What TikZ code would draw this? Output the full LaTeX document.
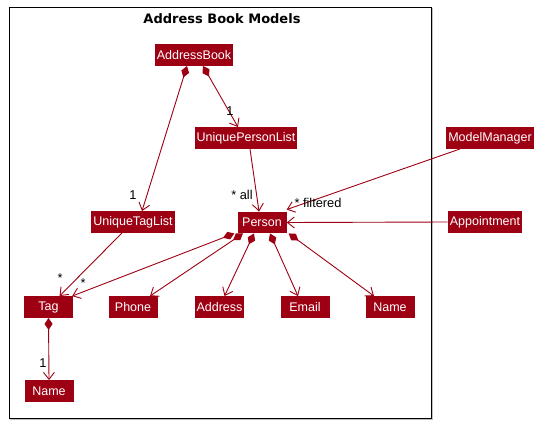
\documentclass[tikz,border=0pt]{standalone}
\usepackage{fontspec}
\setmainfont{Liberation Sans}
\newfontfamily\titlefont{DejaVu Sans}
\usetikzlibrary{arrows.meta}
\definecolor{modelred}{HTML}{9D0012}

\begin{document}
\begin{tikzpicture}[
  x=1pt, y=-1pt,
  font=\fontsize{12.5}{14}\selectfont,
  cls/.style={fill=modelred, text=white, minimum width=49pt, minimum height=21.5pt, inner xsep=2pt, inner ysep=2pt},
  lbl/.style={inner sep=1pt, text=black, font=\fontsize{12.8}{14}\selectfont},
  as/.style={-{Straight Barb[length=7pt, width=11pt]}, draw=modelred, line width=0.9pt},
  comp/.style={{Diamond[length=12pt, width=8pt]}-{Straight Barb[length=7pt, width=11pt]}, draw=modelred, line width=0.9pt},
]
\useasboundingbox (0,0) rectangle (542,424);
% package frame
\node[draw=black!25, line width=1.2pt, minimum width=422pt, minimum height=411pt, inner sep=0pt] at (221.5,214) {};
\node[draw, line width=0.9pt, fill=white, minimum width=422pt, minimum height=411pt, inner sep=0pt] (pkg) at (220,212.5) {};
\node[font=\titlefont\bfseries\fontsize{13}{15}\selectfont] at (222,18.5) {Address Book Models};

\node[cls] (ab)   at (194,55)  {AddressBook};
\node[cls] (upl)  at (246,138) {UniquePersonList};
\node[cls] (utl)  at (133,222) {UniqueTagList};
\node[cls] (per)  at (262,222.5) {Person};
\node[cls] (mm)   at (490,138) {ModelManager};
\node[cls] (appt) at (485,222) {Appointment};
\node[cls] (tag)  at (48.5,307) {Tag};
\node[cls] (ph)   at (133,307) {Phone};
\node[cls] (adr)  at (219.5,307) {Address};
\node[cls] (em)   at (305,307) {Email};
\node[cls] (nm)   at (390,307) {Name};
\node[cls] (tnm)  at (49,391) {Name};

\draw[comp] ([xshift=-7pt]ab.south)  -- ([xshift=9pt]utl.north);
\draw[comp] ([xshift=9pt]ab.south)   -- ([xshift=-8pt]upl.north);
\draw[as]   ([xshift=4pt]upl.south)  -- ([xshift=-3pt]per.north);
\draw[as]   ([xshift=-30pt]mm.south) -- ([yshift=2pt]per.north east);
\draw[as]   (appt.west) -- (per.east);
\draw[as]   ([xshift=-11pt]utl.south) -- ([xshift=11pt]tag.north);
\draw[comp] ([xshift=-3pt]per.south west) -- ([xshift=-1pt]tag.north east);
\draw[comp] ([xshift=-19pt]per.south) -- ([xshift=17pt]ph.north);
\draw[comp] ([xshift=-8pt]per.south)  -- ([xshift=5pt]adr.north);
\draw[comp] ([xshift=8pt]per.south)   -- ([xshift=-7pt]em.north);
\draw[comp] ([xshift=2pt]per.south east) -- ([xshift=-16pt]nm.north);
\draw[comp] (tag.south) -- (tnm.north);

\node[lbl] at (133,195) {1};
\node[lbl] at (230,111) {1};
\node[lbl] at (242,195) {* all};
\node[lbl] at (318,203) {* filtered};
\node[lbl] at (60,278)  {*};
\node[lbl] at (83,283)  {*};
\node[lbl] at (43,363)  {1};
\end{tikzpicture}
\end{document}
